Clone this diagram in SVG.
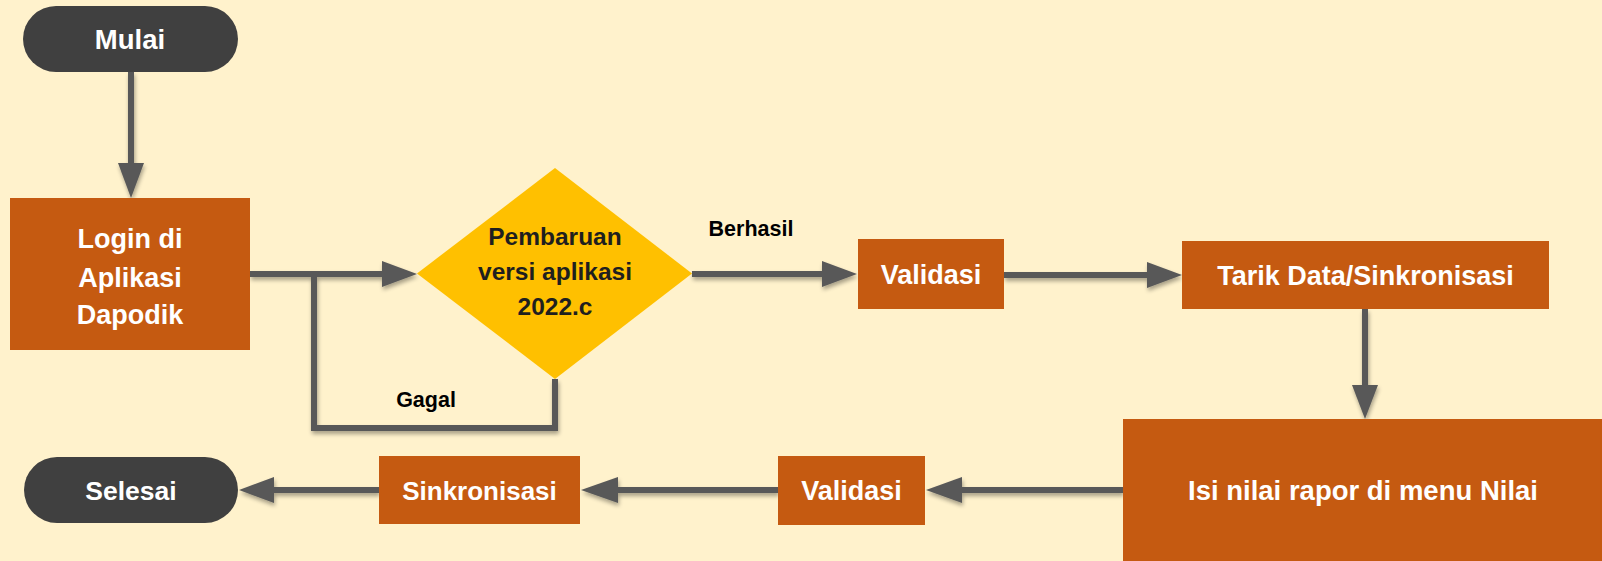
<svg xmlns="http://www.w3.org/2000/svg" width="1602" height="561" viewBox="0 0 1602 561">
<defs>
<style>
.box{fill:#C55A11}
.pill{fill:#404040}
.dia{fill:#FFC000}
.t{font-family:"Liberation Sans",Arial,sans-serif;font-weight:bold;fill:#FFFFFF;text-anchor:middle}
.d{font-family:"Liberation Sans",Arial,sans-serif;font-weight:bold;fill:#1F1F1F;text-anchor:middle;font-size:24.5px}
.lbl{font-family:"Liberation Sans",Arial,sans-serif;font-weight:bold;fill:#000000;font-size:21.5px;text-anchor:middle}
.ln{fill:none;stroke:#595959;stroke-width:6}
.ah{fill:#595959}
</style>
<filter id="sh" x="-10%" y="-30%" width="120%" height="160%">
<feGaussianBlur in="SourceAlpha" stdDeviation="2"/>
<feOffset dx="1" dy="3" result="b"/>
<feComponentTransfer><feFuncA type="linear" slope="0.35"/></feComponentTransfer>
<feMerge><feMergeNode/><feMergeNode in="SourceGraphic"/></feMerge>
</filter>
</defs>
<rect width="1602" height="561" fill="#FFF2CC"/>
<g id="connectors">
<g filter="url(#sh)">
<line class="ln" x1="131" y1="72" x2="131" y2="164"/>
<polygon class="ah" points="118,163 144,163 131,198"/>
<line class="ln" x1="250" y1="274" x2="385" y2="274"/>
<polygon class="ah" points="382,261 382,287 417,274"/>
<polyline class="ln" points="555,379 555,428 314,428 314,274"/>
<line class="ln" x1="692" y1="274" x2="825" y2="274"/>
<polygon class="ah" points="822,261 822,287 857,274"/>
<line class="ln" x1="1004" y1="275" x2="1150" y2="275"/>
<polygon class="ah" points="1147,262 1147,288 1182,275"/>
<line class="ln" x1="1365" y1="309" x2="1365" y2="387"/>
<polygon class="ah" points="1352,385 1378,385 1365,419"/>
<line class="ln" x1="1123" y1="490" x2="960" y2="490"/>
<polygon class="ah" points="962,477 962,503 926,490"/>
<line class="ln" x1="778" y1="490" x2="616" y2="490"/>
<polygon class="ah" points="618,477 618,503 581,490"/>
<line class="ln" x1="379" y1="490" x2="272" y2="490"/>
<polygon class="ah" points="274,477 274,503 239,490"/>
</g>
<text class="lbl" x="751" y="236">Berhasil</text>
<text class="lbl" x="426" y="407">Gagal</text>
</g>
<g id="mulai">
<rect class="pill" x="23" y="6" width="215" height="66" rx="33"/>
<text class="t" x="130" y="49" font-size="27.5">Mulai</text>
</g>
<g id="login">
<rect class="box" x="10" y="198" width="240" height="152"/>
<text class="t" x="130" y="248" font-size="27">Login di</text>
<text class="t" x="130" y="287" font-size="27">Aplikasi</text>
<text class="t" x="130" y="324" font-size="27">Dapodik</text>
</g>
<g id="pembaruan">
<polygon class="dia" points="555,168 692,273.5 555,379 417,273.5"/>
<text class="d" x="555" y="245">Pembaruan</text>
<text class="d" x="555" y="280">versi aplikasi</text>
<text class="d" x="555" y="315">2022.c</text>
</g>
<g id="validasi1">
<rect class="box" x="858" y="239" width="146" height="70"/>
<text class="t" x="931" y="284" font-size="27">Validasi</text>
</g>
<g id="tarik">
<rect class="box" x="1182" y="241" width="367" height="68"/>
<text class="t" x="1365.5" y="285" font-size="27">Tarik Data/Sinkronisasi</text>
</g>
<g id="isi">
<rect class="box" x="1123" y="419" width="479" height="142"/>
<text class="t" x="1363" y="500" font-size="27.5">Isi nilai rapor di menu Nilai</text>
</g>
<g id="validasi2">
<rect class="box" x="778" y="456" width="147" height="69"/>
<text class="t" x="851.5" y="500" font-size="27">Validasi</text>
</g>
<g id="sinkronisasi">
<rect class="box" x="379" y="456" width="201" height="68"/>
<text class="t" x="479.5" y="500" font-size="26">Sinkronisasi</text>
</g>
<g id="selesai">
<rect class="pill" x="24" y="457" width="214" height="66" rx="33"/>
<text class="t" x="131" y="500" font-size="26.5">Selesai</text>
</g>
</svg>
